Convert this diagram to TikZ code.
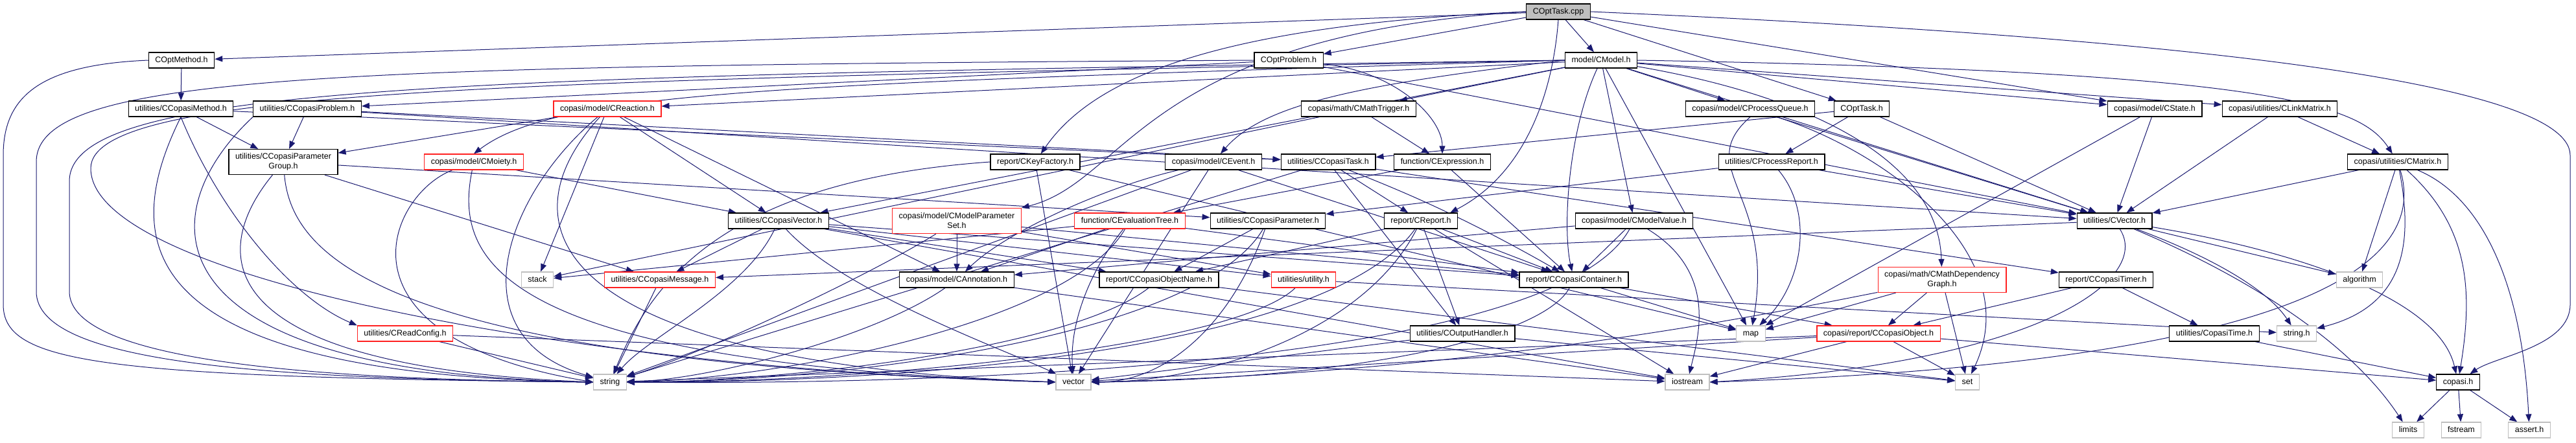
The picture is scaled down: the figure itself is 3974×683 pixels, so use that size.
\documentclass[tikz,border=0pt]{standalone}
\usepackage{fontspec}
\setmainfont{Liberation Sans}
\usetikzlibrary{arrows.meta}
\definecolor{edgec}{HTML}{191970}
\definecolor{grayb}{HTML}{BFBFBF}
\definecolor{redb}{HTML}{FF2020}
\pgfdeclarelayer{edgelayer}
\pgfsetlayers{edgelayer,main}
\tikzset{
  bx/.style={draw=black, line width=1.2pt, font=\fontsize{12.5}{15}\selectfont,
    inner xsep=10pt, inner ysep=0pt, minimum height=24pt, align=center, fill=white},
  one/.style={bx, text height=9.3pt, text depth=2.7pt},
  blk/.style={one},
  rd/.style={one, draw=redb},
  gr/.style={one, draw=grayb},
  tworow/.style={bx, minimum height=39pt},
  e/.style={draw=edgec, line width=1pt, -{Triangle[length=12pt,width=9pt]}},
}
\begin{document}
\begin{tikzpicture}[x=1pt,y=-1pt]
\useasboundingbox (0,0) rectangle (3974,683);
% Row 0
\node[blk, fill=grayb] (cpp) at (2404,18) {COptTask.cpp};
% Row 1
\node[blk] (optmethod) at (280,93) {COptMethod.h};
\node[blk] (optproblem) at (1988,93) {COptProblem.h};
\node[blk] (cmodel) at (2470,93) {model/CModel.h};
% Row 2
\node[blk] (cmethod) at (279,168) {utilities/CCopasiMethod.h};
\node[blk] (cproblem) at (474,168) {utilities/CCopasiProblem.h};
\node[rd] (creaction) at (937,168) {copasi/model/CReaction.h};
\node[blk] (mathtrigger) at (2096,168) {copasi/math/CMathTrigger.h};
\node[blk] (procqueue) at (2700,168) {copasi/model/CProcessQueue.h};
\node[blk] (opttaskh) at (2872,168) {COptTask.h};
\node[blk] (cstate) at (3324,168) {copasi/model/CState.h};
\node[blk] (linkmatrix) at (3517,168) {copasi/utilities/CLinkMatrix.h};
% Row 3
\node[tworow] (pgroup) at (437,250) {utilities/CCopasiParameter\\Group.h};
\node[rd] (moiety) at (731,250) {copasi/model/CMoiety.h};
\node[blk] (keyfactory) at (1597,250) {report/CKeyFactory.h};
\node[blk] (cevent) at (1872,250) {copasi/model/CEvent.h};
\node[blk] (ctask) at (2049,250) {utilities/CCopasiTask.h};
\node[blk] (cexpr) at (2225,250) {function/CExpression.h};
\node[blk] (procreport) at (2733,250) {utilities/CProcessReport.h};
\node[blk] (cmatrix) at (3699,250) {copasi/utilities/CMatrix.h};
% Row 4
\node[blk] (cvectorcc) at (1201,341) {utilities/CCopasiVector.h};
\node[tworow, draw=redb] (mpset) at (1476,341) {copasi/model/CModelParameter\\Set.h};
\node[rd] (evaltree) at (1743,341) {function/CEvaluationTree.h};
\node[blk] (cparam) at (1956,341) {utilities/CCopasiParameter.h};
\node[blk] (creport) at (2192,341) {report/CReport.h};
\node[blk] (modelvalue) at (2521,341) {copasi/model/CModelValue.h};
\node[blk] (cvector) at (3262,341) {utilities/CVector.h};
% Row 5
\node[gr] (stack) at (829,432) {stack};
\node[rd] (cmessage) at (1018,432) {utilities/CCopasiMessage.h};
\node[blk] (annotation) at (1476,432) {copasi/model/CAnnotation.h};
\node[blk] (objname) at (1788,432) {report/CCopasiObjectName.h};
\node[rd] (utility) at (2011,432) {utilities/utility.h};
\node[blk] (container) at (2428,432) {report/CCopasiContainer.h};
\node[tworow, draw=redb] (mathdep) at (2996,432) {copasi/math/CMathDependency\\Graph.h};
\node[blk] (ctimer) at (3249,432) {report/CCopasiTimer.h};
\node[gr] (algorithm) at (3640,432) {algorithm};
% Row 6
\node[rd] (readconfig) at (625,515) {utilities/CReadConfig.h};
\node[blk] (outhandler) at (2256,515) {utilities/COutputHandler.h};
\node[gr] (map) at (2701,515) {map};
\node[rd] (cobject) at (2898,515) {copasi/report/CCopasiObject.h};
\node[blk] (copasitime) at (3416,515) {utilities/CopasiTime.h};
\node[gr] (stringh) at (3543,515) {string.h};
% Row 7
\node[gr] (string) at (941,590) {string};
\node[gr] (vector) at (1656,590) {vector};
\node[gr] (iostream) at (2603,590) {iostream};
\node[gr] (set) at (3035,590) {set};
\node[blk] (copasih) at (3792,590) {copasi.h};
% Row 8
\node[gr] (limits) at (3715,664) {limits};
\node[gr] (fstream) at (3797,664) {fstream};
\node[gr] (asserth) at (3902,664) {assert.h};

\begin{pgfonlayer}{edgelayer}
% COptTask.cpp
\draw[e] (cpp) -- (optmethod);
\draw[e] (cpp) -- (optproblem);
\draw[e] (cpp) -- (cmodel);
\draw[e] (cpp) -- (opttaskh);
\draw[e] (cpp) -- (cstate);
\draw[e] (cpp.west) .. controls (1850,40) and (1680,130) .. (keyfactory);
\draw[e] (cpp.west) .. controls (1760,55) and (1740,280) .. (mpset.north east);
\draw[e] (cpp.south) .. controls (2395,150) and (2350,270) .. ([xshift=-12pt]creport.north east);
\draw[e] (cpp.east) .. controls (3300,55) and (3965,120) .. (3965,240) -- (3965,470) .. controls (3965,535) and (3850,550) .. (copasih);
% COptMethod.h
\draw[e] (optmethod) -- (cmethod);
\draw[e] (optmethod.west) .. controls (60,100) and (5,150) .. (5,240) -- (5,470) .. controls (5,560) and (150,582) .. (string.west);
% COptProblem.h
\draw[e] (optproblem) -- (cproblem);
\draw[e] (optproblem) .. controls (2150,110) and (2225,180) .. (cexpr);
\draw[e] (optproblem) -- (cvector);
\draw[e] (optproblem.west) .. controls (500,102) and (56,115) .. (56,250) -- (56,450) .. controls (56,560) and (400,585) .. (string.west);
% model/CModel.h
\draw[e] (cmodel) -- (creaction);
\draw[e] (cmodel.west) .. controls (1200,130) and (860,140) .. (moiety.north);
\draw[e] (cmodel) -- (mathtrigger);
\draw[e] (cmodel) -- (procqueue);
\draw[e] (cmodel) -- (cstate);
\draw[e] (cmodel) -- (linkmatrix);
\draw[e] (cmodel.east) .. controls (3500,110) and (3640,160) .. (cmatrix);
\draw[e] (cmodel.west) .. controls (2100,130) and (1950,160) .. (cevent);
\draw[e] (cmodel) -- (cvectorcc);
\draw[e] (cmodel) -- (modelvalue);
\draw[e] (cmodel) .. controls (2420,200) and (2410,350) .. (container);
\draw[e] (cmodel) .. controls (2800,150) and (2990,250) .. (mathdep);
\draw[e] (cmodel) -- (cvector);
\draw[e] (cmodel) -- (map);
\draw[e] (cmodel.west) .. controls (700,118) and (107,130) .. (107,280) -- (107,450) .. controls (107,560) and (500,586) .. (string.west);
\draw[e] (cmodel.west) .. controls (800,125) and (140,135) .. (140,260) .. controls (140,430) and (900,570) .. (vector.west);
% CCopasiMethod.h
\draw[e] (cmethod) -- (pgroup);
\draw[e] (cmethod.south) .. controls (340,330) and (450,460) .. (readconfig.north west);
\draw[e] (cmethod.south) .. controls (180,380) and (210,578) .. (string.west);
\draw[e] (cmethod) -- (ctask);
% CCopasiProblem.h
\draw[e] (cproblem) -- (pgroup);
\draw[e] (cproblem.south west) .. controls (230,330) and (220,575) .. (string.west);
\draw[e] (cproblem) -- (cvector);
\draw[e] (cproblem) -- (ctask);
% CReaction.h
\draw[e] (creaction) -- (pgroup);
\draw[e] (creaction) -- (cvectorcc);
\draw[e] (creaction) -- (stack);
\draw[e] (creaction) -- (annotation);
\draw[e] (creaction) .. controls (780,300) and (700,520) .. (string);
\draw[e] (creaction) .. controls (770,350) and (850,560) .. (vector.west);
% CMathTrigger.h
\draw[e] (mathtrigger) -- (cexpr);
\draw[e] (mathtrigger) -- (stack);
% CProcessQueue.h
\draw[e] (procqueue.south) .. controls (2610,260) and (2740,300) .. (map);
\draw[e] (procqueue) .. controls (2900,230) and (3130,390) .. (set);
\draw[e] (procqueue) -- (cvector);
% COptTask.h
\draw[e] (opttaskh) -- (ctask);
\draw[e] (opttaskh) -- (procreport);
\draw[e] (opttaskh) -- (cvector);
% CState.h
\draw[e] (cstate) -- (cvector);
\draw[e] (cstate) -- (map);
% CLinkMatrix.h
\draw[e] (linkmatrix) -- (cmatrix);
\draw[e] (linkmatrix) -- (cvector);
% CCopasiParameterGroup.h
\draw[e] (pgroup) -- (cparam);
\draw[e] (pgroup) -- (cmessage);
\draw[e] (pgroup) .. controls (330,380) and (300,565) .. (string.west);
\draw[e] (pgroup) .. controls (450,400) and (600,560) .. (vector.west);
% CMoiety.h
\draw[e] (moiety) -- (cvectorcc);
\draw[e] (moiety) .. controls (700,400) and (760,560) .. (vector.west);
\draw[e] (moiety) .. controls (600,300) and (500,520) .. (string.west);
% CKeyFactory.h
\draw[e] (keyfactory.west) .. controls (1100,280) and (1000,450) .. (string);
\draw[e] (keyfactory) -- (map);
\draw[e] (keyfactory) -- (vector);
% CEvent.h
\draw[e] (cevent) .. controls (1700,290) and (1550,360) .. (annotation);
\draw[e] (cevent) -- (string);
\draw[e] (cevent) -- (container);
\draw[e] (cevent) -- (vector);
% CCopasiTask.h
\draw[e] (ctask) -- (creport);
\draw[e] (ctask) -- (outhandler);
\draw[e] (ctask) .. controls (2150,290) and (2250,330) .. (container);
\draw[e] (ctask) -- (ctimer);
\draw[e] (ctask) -- (string);
% CExpression.h
\draw[e] (cexpr) -- (evaltree);
\draw[e] (cexpr) -- (container);
% CProcessReport.h
\draw[e] (procreport) -- (cparam);
\draw[e] (procreport) .. controls (2800,330) and (2780,440) .. (map);
\draw[e] (procreport) -- (cvector);
% CMatrix.h
\draw[e] (cmatrix) -- (cvector);
\draw[e] (cmatrix) -- (algorithm);
\draw[e] (cmatrix) .. controls (3720,360) and (3720,470) .. (stringh);
\draw[e] (cmatrix) .. controls (3810,350) and (3815,450) .. (copasih);
\draw[e] (cmatrix) .. controls (3820,300) and (3890,420) .. (asserth);
\draw[e] (cmatrix) .. controls (3760,450) and (3400,565) .. (iostream.east);
% CCopasiVector.h
\draw[e] (cvectorcc) -- (cmessage);
\draw[e] (cvectorcc) .. controls (1150,450) and (1000,520) .. (string);
\draw[e] (cvectorcc) .. controls (1300,450) and (1550,540) .. (vector);
\draw[e] (cvectorcc) -- (objname);
\draw[e] (cvectorcc) -- (container);
\draw[e] (cvectorcc) -- (utility);
\draw[e] (cvectorcc) -- (iostream);
% CModelParameterSet.h
\draw[e] (mpset) -- (annotation);
\draw[e] (mpset) .. controls (1350,420) and (1100,540) .. (string);
\draw[e] (mpset) -- (container);
\draw[e] (mpset) -- (utility);
% CEvaluationTree.h
\draw[e] (evaltree) .. controls (1680,420) and (1650,500) .. (vector);
\draw[e] (evaltree) -- (annotation);
\draw[e] (evaltree) -- (stack);
\draw[e] (evaltree) .. controls (1650,500) and (1200,585) .. (string.east);
\draw[e] (evaltree) -- (container);
% CCopasiParameter.h
\draw[e] (cparam) -- (objname);
\draw[e] (cparam) .. controls (1850,520) and (1300,590) .. (string.east);
\draw[e] (cparam) .. controls (1900,500) and (1800,590) .. (vector.east);
% CReport.h
\draw[e] (creport) -- (container);
\draw[e] (creport) -- (outhandler);
\draw[e] (creport) -- (iostream);
\draw[e] (creport) -- (objname);
\draw[e] (creport) .. controls (2050,540) and (1400,592) .. (string.east);
\draw[e] (creport) .. controls (2100,520) and (1850,590) .. (vector.east);
% CModelValue.h
\draw[e] (modelvalue) -- (container);
\draw[e] (modelvalue) .. controls (2650,420) and (2620,520) .. (iostream);
\draw[e] (modelvalue) -- (annotation);
\draw[e] (modelvalue) .. controls (2400,560) and (1500,595) .. (string.east);
% CVector.h
\draw[e] (cvector) -- (algorithm);
\draw[e] (cvector) .. controls (3420,400) and (3500,450) .. (stringh);
\draw[e] (cvector) .. controls (3500,380) and (3760,450) .. (copasih);
\draw[e] (cvector) .. controls (3450,420) and (3620,520) .. (limits);
\draw[e] (cvector) .. controls (3320,430) and (3150,560) .. (iostream.east);
\draw[e] (cvector) -- (cmessage);
% row 5 sources
\draw[e] (cmessage) -- (string);
\draw[e] (annotation) .. controls (1350,520) and (1100,585) .. (string.east);
\draw[e] (annotation) -- (iostream);
\draw[e] (objname) .. controls (1650,540) and (1200,590) .. (string.east);
\draw[e] (objname) -- (set);
\draw[e] (utility) -- (stringh);
\draw[e] (utility) .. controls (1900,540) and (1300,592) .. (string.east);
\draw[e] (container) -- (map);
\draw[e] (container) -- (cobject);
\draw[e] (container) .. controls (2380,520) and (2100,585) .. (vector.east);
\draw[e] (mathdep) -- (cobject);
\draw[e] (mathdep) -- (map);
\draw[e] (mathdep) -- (set);
\draw[e] (mathdep) .. controls (2750,480) and (2300,575) .. (vector.east);
\draw[e] (ctimer) -- (cobject);
\draw[e] (ctimer) -- (copasitime);
% row 6 sources
\draw[e] (readconfig) -- (string);
\draw[e] (readconfig) -- (iostream);
\draw[e] (outhandler) -- (vector);
\draw[e] (outhandler) -- (set);
\draw[e] (cobject) -- (set);
\draw[e] (cobject) -- (iostream);
\draw[e] (cobject) -- (copasih);
\draw[e] (cobject) -- (vector);
\draw[e] (cobject) -- (string);
\draw[e] (copasitime) -- (copasih);
% copasi.h
\draw[e] (copasih) -- (limits);
\draw[e] (copasih) -- (fstream);
\draw[e] (copasih) -- (asserth);
\end{pgfonlayer}
\end{tikzpicture}
\end{document}
